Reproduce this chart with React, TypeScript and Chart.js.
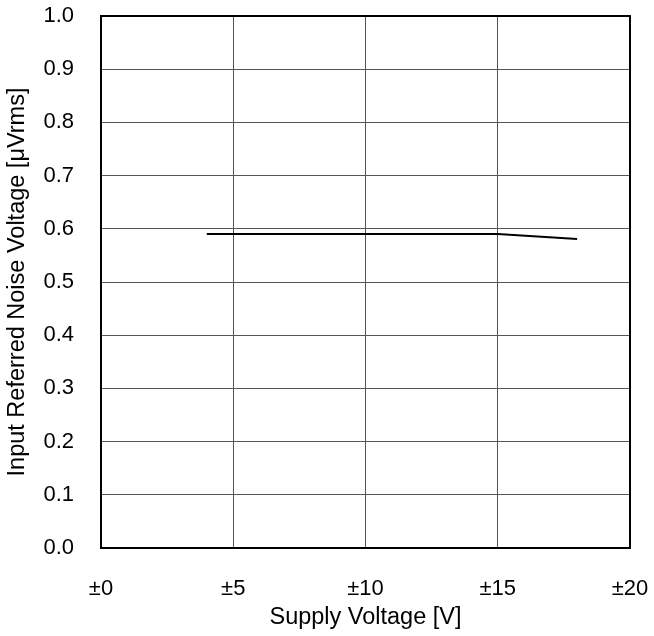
import React, { useEffect, useRef } from "react";
import { Chart, registerables } from "chart.js";

Chart.register(...registerables);

const supplyVoltage = [4, 5, 10, 15, 18];
const noiseVoltage = [0.59, 0.59, 0.59, 0.59, 0.581];
const xTicks = [0, 5, 10, 15, 20];
const xTitle = "Supply Voltage [V]";
const yTitle = "Input Referred Noise Voltage [μVrms]";

const FONT = "'Liberation Sans', Arial, sans-serif";

const frame = {
  id: "frame",
  afterDraw(chart: any) {
    const { ctx, chartArea } = chart;
    ctx.save();
    ctx.strokeStyle = "#000";
    ctx.lineWidth = 2;
    ctx.strokeRect(chartArea.left, chartArea.top, chartArea.right - chartArea.left, chartArea.bottom - chartArea.top);
    ctx.restore();
  },
};

export default function App() {
  const ref = useRef<HTMLCanvasElement>(null);
  useEffect(() => {
    if (!ref.current) return;
    const chart = new Chart(ref.current, {
      type: "line",
      data: {
        datasets: [
          {
            data: supplyVoltage.map((x, i) => ({ x, y: noiseVoltage[i] })),
            borderColor: "#000",
            borderWidth: 2,
            pointRadius: 0,
            tension: 0,
          },
        ],
      },
      options: {
        animation: false,
        responsive: false,
        devicePixelRatio: 1,
        layout: { padding: { left: 0, top: 16, right: 24, bottom: 0 } },
        plugins: { legend: { display: false }, tooltip: { enabled: false } },
        scales: {
          x: {
            type: "linear",
            min: 0,
            max: 20,
            afterBuildTicks: (s: any) => {
              s.ticks = xTicks.map((v) => ({ value: v }));
            },
            afterFit: (s: any) => {
              s.height = 88;
              s.paddingLeft = 0;
              s.paddingRight = 0;
            },
            ticks: {
              padding: 28,
              color: "#000",
              font: { family: FONT, size: 22 },
              callback: (v: any) => "±" + v,
            },
            grid: { color: "#555", lineWidth: 1, drawTicks: false },
            border: { display: false },
            title: {
              display: true,
              text: xTitle,
              color: "#000",
              font: { family: FONT, size: 23.5 },
              padding: { top: 4, bottom: 4 },
            },
          },
          y: {
            min: 0,
            max: 1,
            ticks: {
              stepSize: 0.1,
              padding: 27,
              color: "#000",
              font: { family: FONT, size: 22 },
              callback: (v: any) => Number(v).toFixed(1),
            },
            afterFit: (s: any) => {
              s.width = 101;
              s.paddingTop = 0;
              s.paddingBottom = 0;
            },
            grid: { color: "#555", lineWidth: 1, drawTicks: false },
            border: { display: false },
            title: {
              display: true,
              text: yTitle,
              color: "#000",
              font: { family: FONT, size: 23.5 },
              padding: { top: 3, bottom: 4 },
            },
          },
        },
      },
      plugins: [frame],
    });
    return () => chart.destroy();
  }, []);
  return (
    <div style={{ position: "absolute", left: 0, top: 0, width: 654, height: 636, background: "#fff" }}>
      <canvas ref={ref} width={654} height={636} style={{ width: 654, height: 636 }} />
    </div>
  );
}
